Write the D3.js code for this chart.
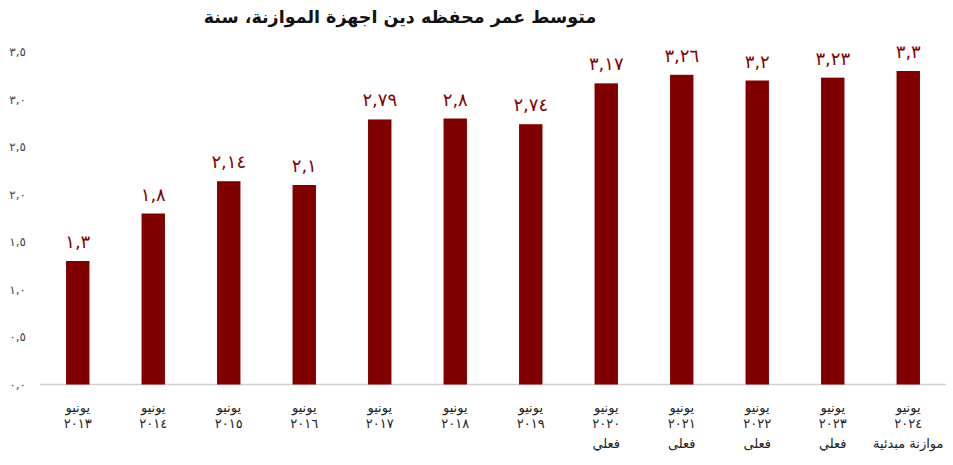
<!DOCTYPE html>
<html>
<head>
<meta charset="utf-8">
<script src="https://cdn.jsdelivr.net/npm/d3@7"></script>
<style>
  body { margin: 0; background: #fff; }
  svg text { font-family: "DejaVu Sans", sans-serif; }
</style>
</head>
<body>
<div id="chart_div"></div>
<script>
// ---- data ----
const years = ["2013", "2014", "2015", "2016", "2017", "2018", "2019", "2020", "2021", "2022", "2023", "2024"];
const values = [1.3, 1.8, 2.14, 2.1, 2.79, 2.8, 2.74, 3.17, 3.26, 3.2, 3.23, 3.3];
const notes = ["", "", "", "", "", "", "", "فعلي", "فعلى", "فعلى", "فعلي", "موازنة مبدئية"];
const yTicks = [0, 0.5, 1, 1.5, 2, 2.5, 3, 3.5];
const monthLabel = "يونيو";
const title = "متوسط عمر محفظه دين اجهزة الموازنة، سنة";

const width = 953, height = 465;
const plotLeft = 40, plotRight = 946, plotBase = 384.5, plotTop = 52;
const barColor = "#800000";

// western digits -> arabic-indic, "." -> ","
const arDigits = "٠١٢٣٤٥٦٧٨٩";
const toAr = s => String(s).replace(/[0-9]/g, d => arDigits[+d]).replace(".", ",");

const svg = d3.select("#chart_div").append("svg")
  .attr("width", width)
  .attr("height", height);

// scales
const x = d3.scaleBand().domain(years).range([plotLeft, plotRight]).paddingInner(0.69).paddingOuter(0.345);
const y = d3.scaleLinear().domain([0, 3.5]).range([plotBase, plotTop]);

// title
svg.append("text")
  .attr("x", 400).attr("y", 23)
  .attr("text-anchor", "middle")
  .attr("direction", "rtl")
  .style("font-weight", "bold")
  .style("font-size", "17.5px")
  .attr("fill", "#111")
  .text(title);

// y axis (labels only)
const yaxis = d3.axisLeft(y)
  .tickValues(yTicks)
  .tickFormat(v => toAr(v.toFixed(1)))
  .tickSize(0)
  .tickPadding(0);

svg.append("g")
  .attr("class", "axis axis-y")
  .attr("transform", "translate(26,0)")
  .call(yaxis)
  .call(g => g.select(".domain").remove())
  .selectAll("text")
  .attr("fill", "#444")
  .style("font-size", "12px");

// baseline
svg.append("line")
  .attr("x1", plotLeft).attr("x2", plotRight)
  .attr("y1", plotBase).attr("y2", plotBase)
  .attr("stroke", "#d0d0d0")
  .attr("stroke-width", 1.5);

// bars
svg.append("g")
  .selectAll("rect")
  .data(values)
  .enter()
  .append("rect")
  .attr("x", (d, i) => x(years[i]))
  .attr("y", d => y(d))
  .attr("width", x.bandwidth())
  .attr("height", d => plotBase - y(d))
  .attr("fill", barColor);

// value labels
svg.append("g")
  .selectAll("text")
  .data(values)
  .enter()
  .append("text")
  .attr("x", (d, i) => x(years[i]) + x.bandwidth() / 2)
  .attr("y", d => y(d) - 13)
  .attr("text-anchor", "middle")
  .attr("fill", barColor)
  .style("font-size", "18px")
  .text(d => toAr(d));

// x labels
const xl = svg.append("g")
  .selectAll("g")
  .data(years)
  .enter()
  .append("g")
  .attr("transform", d => "translate(" + (x(d) + x.bandwidth() / 2) + ",0)");

xl.append("text")
  .attr("y", 412)
  .attr("text-anchor", "middle")
  .attr("fill", "#222")
  .style("font-size", "13px")
  .text(monthLabel);

xl.append("text")
  .attr("y", 428)
  .attr("text-anchor", "middle")
  .attr("fill", "#222")
  .style("font-size", "13px")
  .text(d => toAr(d));

xl.append("text")
  .attr("y", 448)
  .attr("text-anchor", "middle")
  .attr("fill", "#222")
  .style("font-size", "13px")
  .text((d, i) => notes[i]);
</script>
</body>
</html>
